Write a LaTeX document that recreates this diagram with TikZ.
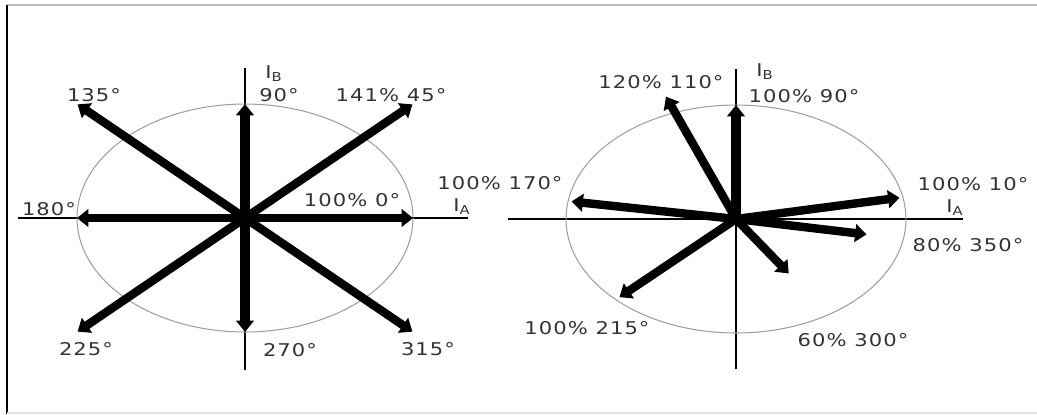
\documentclass[tikz,border=0pt]{standalone}
\usepackage{fontspec}
\setmainfont{DejaVu Sans}[FakeStretch=1.2, LetterSpace=6]
\usetikzlibrary{arrows.meta}
\definecolor{labelgray}{HTML}{333333}
\tikzset{
  phasor/.style={line width=4.8pt, -{Triangle[length=6.5pt,width=10pt]}},
  axisline/.style={line width=1.1pt},
  locus/.style={gray!75, line width=0.6pt},
  lbl/.style={text=labelgray, font=\fontsize{10}{12}\selectfont, inner sep=0pt},
}
\begin{document}
\begin{tikzpicture}[x=0.02cm,y=-0.02cm]
\useasboundingbox (0,0) rectangle (1037,414);
\draw[gray!55, line width=1.6pt] (7,5) -- (1037,5);
\draw[line width=0.7pt] (7,5) -- (7,414);
\draw[gray!25, line width=0.6pt] (7,413) -- (1037,413);

% balanced set
\begin{scope}[shift={(245,218)}, x=3.36cm, y=2.28cm]
\coordinate (LO) at (0,0);
\coordinate (LW) at (-1.35,0);
\coordinate (LE) at (1.33,0);
\coordinate (LN) at (0,1.32);
\coordinate (LS) at (0,-1.33);
\draw[axisline] (LW) -- (LE);
\draw[axisline] (LS) -- (LN);
\draw[locus] (LO) ellipse [x radius=3.36cm, y radius=2.28cm];
\coordinate (L0) at (0:1);
\coordinate (L45) at (45:1.41);
\coordinate (L90) at (90:1);
\coordinate (L135) at (135:1.41);
\coordinate (L180) at (180:1);
\coordinate (L225) at (225:1.41);
\coordinate (L270) at (270:1);
\coordinate (L315) at (315:1.41);
\draw[phasor] (LO) -- (L0);
\draw[phasor] (LO) -- (L45);
\draw[phasor, line width=5.6pt] (LO) -- (L90);
\draw[phasor] (LO) -- (L135);
\draw[phasor] (LO) -- (L180);
\draw[phasor] (LO) -- (L225);
\draw[phasor, line width=5.6pt] (LO) -- (L270);
\draw[phasor] (LO) -- (L315);
\fill (LO) circle (0.05);
\end{scope}

% unbalanced set
\begin{scope}[shift={(736,219)}, x=3.4cm, y=2.28cm]
\coordinate (RO) at (0,0);
\coordinate (RW) at (-1.34,0);
\coordinate (RE) at (1.335,0);
\coordinate (RN) at (0,1.32);
\coordinate (RS) at (0,-1.32);
\draw[axisline] (RW) -- (RE);
\draw[axisline] (RS) -- (RN);
\draw[locus] (RO) ellipse [x radius=3.4cm, y radius=2.28cm];
\coordinate (R10) at (11:0.98);
\coordinate (R90) at (90:1);
\coordinate (R110) at (111:1.15);
\coordinate (R170) at (171:0.98);
\coordinate (R215) at (225:0.97);
\coordinate (R300) at (303:0.57);
\coordinate (R350) at (350:0.78);
\draw[phasor] (RO) -- (R10);
\draw[phasor, line width=5.6pt] (RO) -- (R90);
\draw[phasor] (RO) -- (R110);
\draw[phasor] (RO) -- (R170);
\draw[phasor] (RO) -- (R215);
\draw[phasor] (RO) -- (R300);
\draw[phasor] (RO) -- (R350);
\end{scope}

\node[lbl] (lIB) at (274,74) {I\textsubscript{B}};
\node[lbl] (l90) at (279,95) {90°};
\node[lbl] (l45) at (391,95) {141\% 45°};
\node[lbl] (l135) at (94,95) {135°};
\node[lbl] (l180) at (49,209) {180°};
\node[lbl] (l0) at (352,200) {100\% 0°};
\node[lbl] (lIA) at (462,207) {I\textsubscript{A}};
\node[lbl] (l225) at (86,349) {225°};
\node[lbl] (l270) at (290,350) {270°};
\node[lbl] (l315) at (428,349) {315°};

\node[lbl] (r170) at (500,183) {100\% 170°};
\node[lbl] (r110) at (661,82) {120\% 110°};
\node[lbl] (rIB) at (765,72) {I\textsubscript{B}};
\node[lbl] (r90) at (804,96) {100\% 90°};
\node[lbl] (r10) at (973,184) {100\% 10°};
\node[lbl] (rIA) at (955,208) {I\textsubscript{A}};
\node[lbl] (r350) at (968,245) {80\% 350°};
\node[lbl] (r300) at (853,340) {60\% 300°};
\node[lbl] (r215) at (587,328) {100\% 215°};
\end{tikzpicture}
\end{document}
